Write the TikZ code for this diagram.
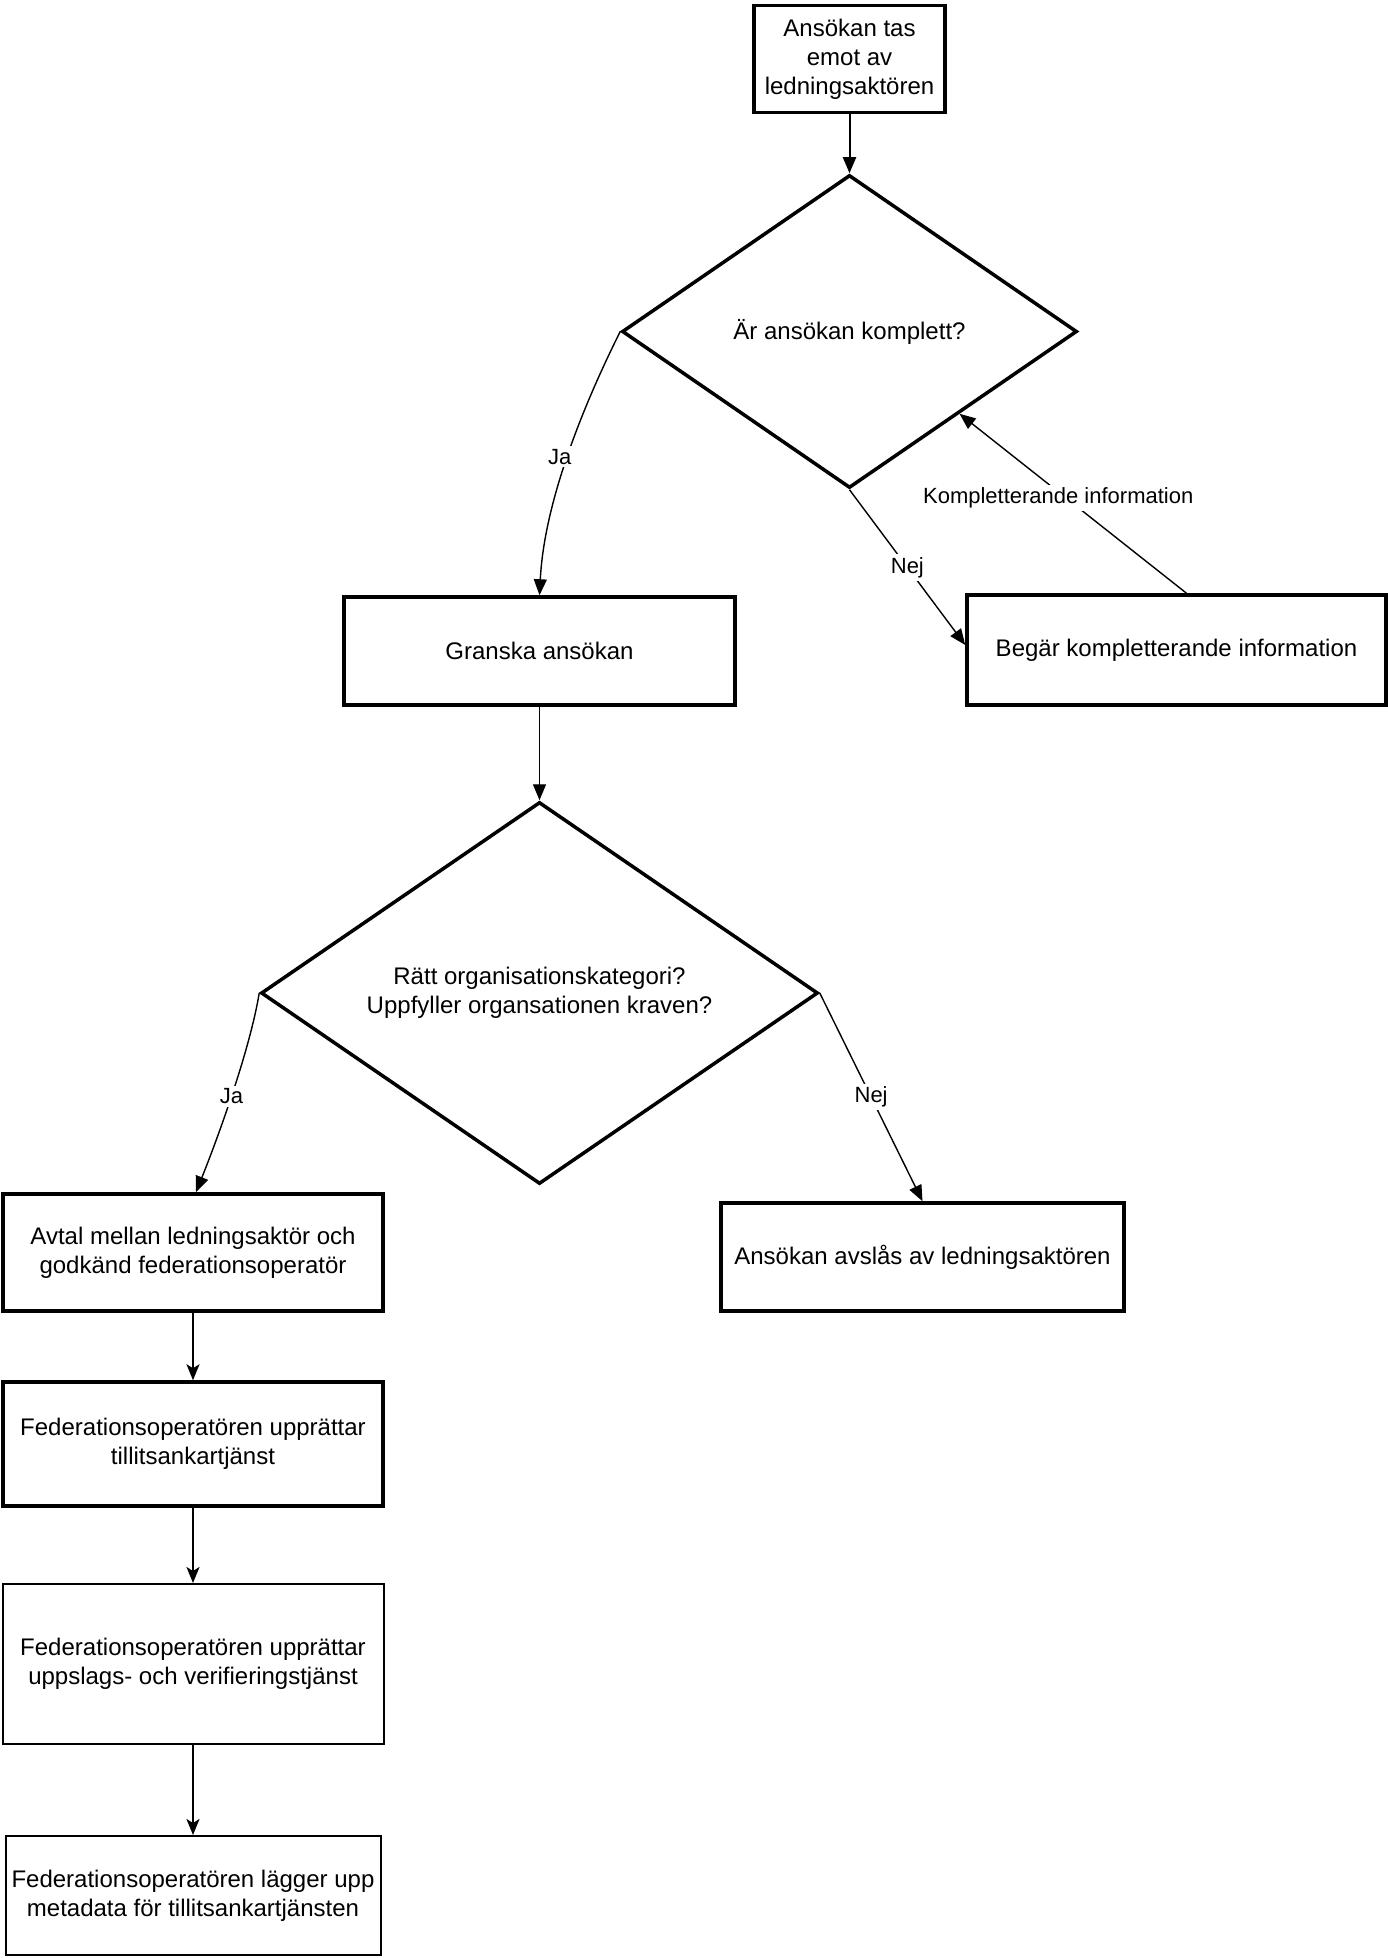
\documentclass[tikz,border=0pt]{standalone}
\usepackage{fontspec}
\setmainfont{Liberation Sans}
\usetikzlibrary{shapes.geometric,arrows.meta,calc}
\tikzset{
  nodefont/.style={font=\fontsize{24}{28.8}\selectfont},
  thickbox/.style={draw, line width=3.5pt, rectangle, align=center, inner sep=0pt, nodefont},
  thinbox/.style={draw, line width=2pt, rectangle, align=center, inner sep=0pt, nodefont},
  decision/.style={draw, line width=3.5pt, diamond, align=center, inner sep=0pt, nodefont},
  lbl/.style={fill=white, inner sep=3pt, font=\fontsize{22}{26}\selectfont},
  blockarrow/.style={line width=1.4pt, -{Triangle[length=16pt,width=13pt]}},
  classicarrow/.style={line width=2pt, -{Stealth[length=16pt,width=13pt,inset=4pt]}},
  toparrow/.style={line width=2pt, -{Triangle[length=16pt,width=13pt]}}
}
\begin{document}
\begin{tikzpicture}[x=1pt,y=-1pt]
\useasboundingbox (0,0) rectangle (1388,1958);
\fill[white] (0,0) rectangle (1388,1958);

\node[thickbox, minimum width=191pt, minimum height=107pt] (start) at (849.5,59) {Ansökan tas\\emot av\\ledningsaktören};
\node[decision, minimum width=455pt, minimum height=313pt, aspect=1.45] (d1) at (849.5,331.5) {Är ansökan komplett?};
\node[thickbox, minimum width=391pt, minimum height=108pt] (granska) at (539.5,651) {Granska ansökan};
\node[thickbox, minimum width=419pt, minimum height=110pt] (begar) at (1176.5,650) {Begär kompletterande information};
\node[decision, minimum width=557pt, minimum height=382pt, aspect=1.46] (d2) at (539.5,993) {Rätt organisationskategori?\\Uppfyller organsationen kraven?};
\node[thickbox, minimum width=380pt, minimum height=117pt] (avtal) at (193,1252.5) {Avtal mellan ledningsaktör och\\godkänd federationsoperatör};
\node[thickbox, minimum width=403pt, minimum height=108pt] (avslas) at (922.5,1257) {Ansökan avslås av ledningsaktören};
\node[thickbox, minimum width=380pt, minimum height=124pt] (fed1) at (193,1444) {Federationsoperatören upprättar\\tillitsankartjänst};
\node[thinbox, minimum width=381pt, minimum height=160pt] (fed2) at (193,1664) {Federationsoperatören upprättar\\uppslags- och verifieringstjänst};
\node[thinbox, minimum width=375pt, minimum height=119pt] (fed3) at (193,1895.5) {Federationsoperatören lägger upp\\metadata för tillitsankartjänsten};

\coordinate (kin) at ($(d1.south)!0.48!(d1.east)$);

\draw[toparrow] (start.south) -- (d1.north);
\draw[blockarrow] (d1.west) .. controls +(-30,60) and +(5,-100) .. (granska.north) node[lbl, pos=0.53, xshift=-8pt] {Ja};
\draw[blockarrow] (d1.south) -- ([yshift=5pt]begar.west) node[lbl, pos=0.5] {Nej};
\draw[blockarrow] ([xshift=10pt]begar.north) -- (kin) node[lbl, pos=0.53, xshift=-8pt] {Kompletterande information};
\draw[blockarrow] (granska.south) -- (d2.north);
\draw[blockarrow] (d2.west) .. controls +(-10,60) and +(20,-50) .. ([xshift=3pt]avtal.north) node[lbl, pos=0.5] {Ja};
\draw[blockarrow] (d2.east) -- (avslas.north) node[lbl, pos=0.5] {Nej};
\draw[classicarrow] (avtal.south) -- (fed1.north);
\draw[classicarrow] (fed1.south) -- (fed2.north);
\draw[classicarrow] (fed2.south) -- (fed3.north);
\end{tikzpicture}
\end{document}
